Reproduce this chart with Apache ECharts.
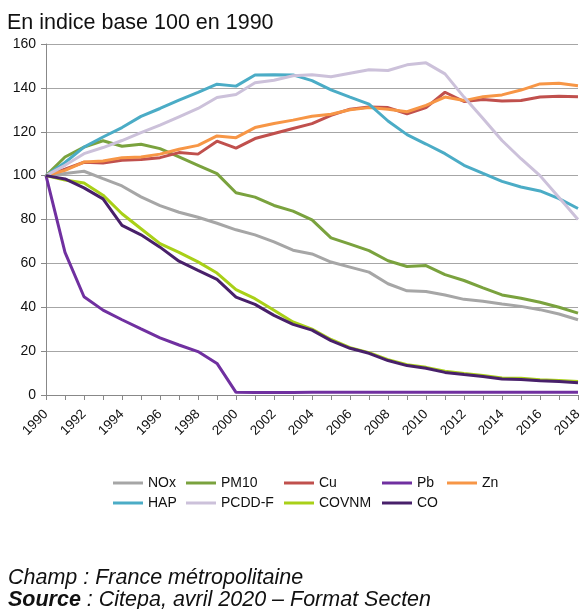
<!DOCTYPE html>
<html>
<head>
<meta charset="utf-8">
<script src="https://cdn.jsdelivr.net/npm/echarts@6/dist/echarts.min.js"></script>
<style>
  html, body { margin: 0; padding: 0; background: #fff; }
  #chart { width: 582px; height: 609px; }
</style>
</head>
<body>
<div id="chart"></div>
<script>
const years = ['1990','1991','1992','1993','1994','1995','1996','1997','1998','1999',
  '2000','2001','2002','2003','2004','2005','2006','2007','2008','2009',
  '2010','2011','2012','2013','2014','2015','2016','2017','2018'];

const yTicks = [0, 20, 40, 60, 80, 100, 120, 140, 160];

const NOx = [100, 101, 102, 98.6, 95.3, 90.3, 86.3, 83.3, 81, 78.3, 75.3, 73, 69.8, 66, 64.3,
  60.6, 58.3, 56, 50.7, 47.5, 47.2, 45.6, 43.6, 42.7, 41.5, 40.4, 38.9, 36.9, 34.3];
const PM10 = [100, 108.5, 113, 115.9, 113.4, 114.3, 112.3, 108.5, 104.7, 100.9, 92.2, 90.2, 86.4,
  83.8, 79.8, 71.6, 68.8, 65.8, 61.2, 58.6, 59, 54.9, 52.2, 48.8, 45.6, 44.1, 42.3, 40, 37.3];
const Cu = [100, 103, 106.1, 105.8, 107, 107.3, 108.2, 110.5, 109.8, 115.7, 112.5, 116.9, 119.2,
  121.5, 123.7, 127.5, 130.3, 131.3, 131, 128.2, 131, 138, 133.8, 134.7, 134, 134.2, 135.8, 136.2, 136];
const Pb = [100, 65, 44.8, 38.7, 34.3, 30.1, 26, 22.8, 19.8, 14.4, 1.2, 1.1, 1.1, 1.1, 1.2,
  1.2, 1.2, 1.2, 1.2, 1.2, 1.2, 1.2, 1.2, 1.2, 1.2, 1.2, 1.2, 1.2, 1.2];
const Zn = [100, 102.4, 106.2, 106.7, 108.2, 108.5, 109.8, 112, 113.8, 118.1, 117.3, 121.9, 123.8,
  125.3, 127.1, 128, 130, 131, 130.3, 129.1, 132, 135.8, 134.2, 136, 136.8, 139, 141.8, 142.1, 141];
const HAP = [100, 106, 113, 117.6, 121.9, 127, 130.6, 134.4, 137.9, 141.7, 140.8, 145.9, 146,
  145.9, 143.3, 139.1, 135.8, 132.6, 124.9, 118.7, 114.4, 110, 104.7, 101, 97.4, 94.8, 93, 89.5, 85];
const PCDDF = [100, 104.7, 110, 112.8, 116, 119.6, 123, 126.8, 130.6, 135.6, 137, 142.3, 143.5,
  145.5, 146, 145.1, 146.7, 148.3, 147.9, 150.5, 151.4, 146.4, 135.8, 126, 116, 107.7, 100, 90, 80];
const COVNM = [100, 98, 96.6, 91.1, 82.6, 75.8, 69, 65, 60.7, 55.6, 48, 43.9, 38.6, 33.3, 30,
  25.3, 21.6, 19.3, 16.1, 13.8, 12.6, 10.8, 9.8, 8.9, 7.8, 7.6, 7, 6.6, 6.2];
const CO = [100, 98.5, 94.4, 89.4, 77.3, 73, 67.4, 61, 56.8, 52.7, 44.6, 41.3, 36.3, 32.2, 29.6,
  24.8, 21.3, 19, 15.7, 13.4, 12.2, 10.3, 9.3, 8.4, 7.3, 7.1, 6.5, 6.1, 5.6];

const seriesNames = ['NOx', 'PM10', 'Cu', 'Pb', 'Zn', 'HAP', 'PCDD-F', 'COVNM', 'CO'];
const seriesValues = [NOx, PM10, Cu, Pb, Zn, HAP, PCDDF, COVNM, CO];
const seriesColors = ['#A6A6A6', '#7AA23E', '#C0504D', '#7030A0', '#F79646',
  '#4BACC6', '#CCC1DA', '#A9D018', '#48206A'];

// legend columns (as in the original two-row legend)
const legendColumns = [['NOx', 'HAP'], ['PM10', 'PCDD-F'], ['Cu', 'COVNM'], ['Pb', 'CO'], ['Zn']];
const legendLefts = [113, 186, 284, 382, 447];

const FONT = '"Liberation Sans", Arial, sans-serif';
const chart = echarts.init(document.getElementById('chart'), null, { renderer: 'canvas' });

const option = {
  animation: false,
  backgroundColor: '#fff',
  textStyle: { fontFamily: FONT },
  grid: { left: 46, right: 4, top: 44, bottom: 214, containLabel: false, outerBoundsMode: 'none' },
  legend: legendColumns.map((col, i) => ({
    data: col,
    orient: 'vertical',
    left: legendLefts[i],
    top: 473,
    padding: 0,
    itemGap: 0,
    icon: 'rect',
    itemWidth: 30,
    itemHeight: 3,
    textStyle: { fontFamily: FONT, fontSize: 14, color: '#111', lineHeight: 20 }
  })),
  xAxis: {
    type: 'category',
    data: years,
    boundaryGap: false,
    axisLine: { show: true, lineStyle: { color: '#888', width: 1 } },
    axisTick: { show: true, interval: 0, length: 5, lineStyle: { color: '#888' } },
    axisLabel: { interval: 1, rotate: 45, fontSize: 13.5, color: '#111', margin: 17, fontFamily: FONT },
    splitLine: { show: false }
  },
  yAxis: {
    type: 'value',
    min: yTicks[0],
    max: yTicks[yTicks.length - 1],
    interval: yTicks[1] - yTicks[0],
    axisLine: { show: true, lineStyle: { color: '#888', width: 1 } },
    axisTick: { show: true, length: 5, lineStyle: { color: '#888' } },
    axisLabel: { fontSize: 14, color: '#111', margin: 10, fontFamily: FONT },
    splitLine: { show: true, lineStyle: { color: '#A6A6A6', width: 1 } }
  },
  series: seriesNames.map((name, i) => ({
    name: name,
    type: 'line',
    data: seriesValues[i],
    symbol: 'none',
    smooth: false,
    color: seriesColors[i],
    lineStyle: { width: 3, color: seriesColors[i] },
    emphasis: { disabled: true }
  })),
  graphic: [
    {
      type: 'text', left: 7, top: 12,
      style: { text: 'En indice base 100 en 1990', font: '21.5px ' + FONT, fill: '#111' }
    },
    {
      type: 'text', left: 8, top: 567,
      style: { text: 'Champ : France métropolitaine', font: 'italic 21.5px ' + FONT, fill: '#111' }
    },
    {
      type: 'text', left: 8, top: 589,
      style: {
        text: '{b|Source}{n| : Citepa, avril 2020 – Format Secten}',
        rich: {
          b: { fontFamily: FONT, fontSize: 21.5, fontStyle: 'italic', fontWeight: 'bold', fill: '#111' },
          n: { fontFamily: FONT, fontSize: 21.5, fontStyle: 'italic', fill: '#111' }
        }
      }
    }
  ]
};
chart.setOption(option);
</script>
</body>
</html>
